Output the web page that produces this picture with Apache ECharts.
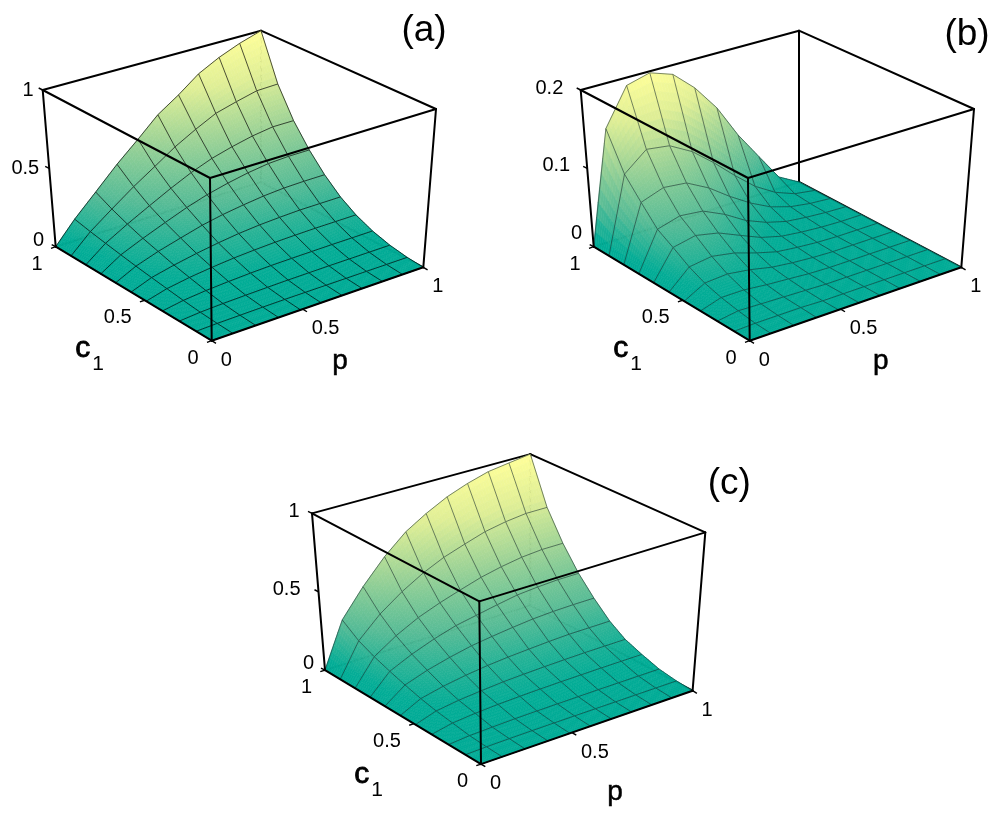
<!DOCTYPE html>
<html>
<head>
<meta charset="utf-8">
<title>surfaces</title>
<script src="https://cdn.jsdelivr.net/npm/echarts@6/dist/echarts.min.js"></script>
<style>
  html, body { margin: 0; padding: 0; background: #fff; }
  #main { width: 1002px; height: 836px; }
</style>
</head>
<body>
<div id="main"></div>
<script>
// grid line positions along p and c1 (they are not quite even)
var gridFrac = [0, 0.1, 0.208, 0.316, 0.42, 0.517, 0.616, 0.711, 0.807, 0.902, 1];

// z values, rows are c1 from 0 to 1, columns are p from 0 to 1
var surfaceA = [
  [0, 0, 0, 0, 0, 0, 0, 0, 0, 0, 0],
  [0, 0.004, 0.006, 0.008, 0.009, 0.009, 0.009, 0.009, 0.009, 0.009, 0.009],
  [0, 0.011, 0.017, 0.021, 0.024, 0.026, 0.027, 0.028, 0.028, 0.028, 0.028],
  [0, 0.022, 0.036, 0.045, 0.052, 0.056, 0.058, 0.059, 0.06, 0.06, 0.06],
  [0, 0.035, 0.058, 0.075, 0.088, 0.096, 0.102, 0.105, 0.107, 0.107, 0.107],
  [0, 0.048, 0.08, 0.107, 0.129, 0.146, 0.158, 0.165, 0.17, 0.17, 0.17],
  [0, 0.062, 0.109, 0.148, 0.185, 0.211, 0.231, 0.247, 0.257, 0.26, 0.26],
  [0, 0.078, 0.137, 0.192, 0.244, 0.285, 0.318, 0.344, 0.363, 0.37, 0.37],
  [0, 0.095, 0.172, 0.244, 0.313, 0.373, 0.424, 0.46, 0.49, 0.51, 0.51],
  [0, 0.113, 0.213, 0.312, 0.4, 0.486, 0.56, 0.625, 0.662, 0.695, 0.7],
  [0, 0.135, 0.265, 0.4, 0.52, 0.64, 0.73, 0.83, 0.9, 0.955, 1]
];
var surfaceB = [
  [0, 0, 0, 0, 0, 0, 0, 0, 0, 0, 0],
  [0, 0.001, 0.001, 0.001, 0, 0, 0, 0, 0, 0, 0],
  [0, 0.004, 0.003, 0.002, 0.001, 0, 0, 0, 0, 0, 0],
  [0, 0.008, 0.008, 0.005, 0.003, 0.001, 0, 0, 0, 0, 0],
  [0, 0.014, 0.016, 0.012, 0.006, 0.003, 0.001, 0, 0, 0, 0],
  [0, 0.023, 0.027, 0.022, 0.013, 0.006, 0.003, 0.001, 0, 0, 0],
  [0, 0.036, 0.042, 0.036, 0.024, 0.013, 0.006, 0.003, 0.001, 0, 0],
  [0, 0.048, 0.056, 0.053, 0.04, 0.024, 0.013, 0.006, 0.003, 0.001, 0],
  [0, 0.071, 0.081, 0.078, 0.063, 0.044, 0.027, 0.014, 0.006, 0.002, 0],
  [0, 0.096, 0.119, 0.115, 0.099, 0.077, 0.052, 0.03, 0.014, 0.004, 0],
  [0, 0.143, 0.19, 0.198, 0.188, 0.163, 0.129, 0.086, 0.05, 0.015, 0]
];
var surfaceC = [
  [0, 0, 0, 0, 0, 0, 0, 0, 0, 0, 0],
  [0, 0.004, 0.006, 0.007, 0.008, 0.008, 0.008, 0.008, 0.008, 0.008, 0.008],
  [0, 0.011, 0.016, 0.02, 0.022, 0.023, 0.024, 0.025, 0.025, 0.025, 0.025],
  [0, 0.027, 0.04, 0.048, 0.053, 0.056, 0.058, 0.059, 0.06, 0.06, 0.06],
  [0, 0.042, 0.062, 0.075, 0.085, 0.091, 0.095, 0.098, 0.1, 0.1, 0.1],
  [0, 0.063, 0.094, 0.117, 0.134, 0.145, 0.153, 0.16, 0.165, 0.165, 0.165],
  [0, 0.091, 0.138, 0.174, 0.203, 0.221, 0.237, 0.25, 0.257, 0.26, 0.26],
  [0, 0.122, 0.185, 0.237, 0.278, 0.303, 0.329, 0.352, 0.363, 0.37, 0.37],
  [0, 0.158, 0.247, 0.318, 0.37, 0.412, 0.453, 0.482, 0.504, 0.515, 0.515],
  [0, 0.204, 0.331, 0.43, 0.51, 0.57, 0.616, 0.658, 0.684, 0.7, 0.7],
  [0, 0.28, 0.45, 0.6, 0.72, 0.8, 0.87, 0.92, 0.96, 0.98, 1]
];

// tick labels, the 0.5 tick sits a bit before the middle of the floor edge
var floorTickLabels = ['0', '0.5', '1'];
var floorTickPos = [0, 0.43, 1];
var zTickLabelsAC = ['0', '0.5', '1'];
var zTickLabelsB = ['0', '0.1', '0.2'];
var zTickValsAC = [0, 0.5, 1];
var zTickValsB = [0, 0.1, 0.2];

var FONT = '"Liberation Sans", Arial, sans-serif';

// box corners in panel units (same box in all three panels)
var floorBox = { F: [211.7, 340.7], R: [423.3, 267.3], L: [55.7, 246.7], B: [261, 182] };
var topBox = { F: [210, 178], R: [436, 109], L: [42.7, 90], B: [261, 30.7] };

var colorStops = [
  [0, [0, 171, 150]],
  [0.05, [3, 172, 150]],
  [0.25, [85, 187, 150]],
  [0.5, [155, 210, 150]],
  [0.75, [222, 238, 150]],
  [1, [255, 255, 153]]
];

function colorAt(t) {
  t = Math.max(0, Math.min(1, t));
  for (var k = 1; k < colorStops.length; k++) {
    if (t <= colorStops[k][0]) {
      var a = colorStops[k - 1], b = colorStops[k];
      var f = (t - a[0]) / (b[0] - a[0]);
      return 'rgb(' + [0, 1, 2].map(function (n) {
        return Math.round(a[1][n] + (b[1][n] - a[1][n]) * f);
      }).join(',') + ')';
    }
  }
  return 'rgb(255,255,153)';
}

function bilinear(box, p, c) {
  var out = [];
  for (var n = 0; n < 2; n++) {
    out[n] = (1 - p) * (1 - c) * box.F[n] + p * (1 - c) * box.R[n] +
      (1 - p) * c * box.L[n] + p * c * box.B[n];
  }
  return out;
}

// p, c1 and h (0..1 of box height) to panel units
function project(p, c, h) {
  var a = bilinear(floorBox, p, c);
  var b = bilinear(topBox, p, c);
  return [a[0] + (b[0] - a[0]) * h, a[1] + (b[1] - a[1]) * h];
}

var panels = [
  {
    name: 'a', left: 0, top: 0, z: surfaceA, zMax: 1, lineColor: 'rgba(0,0,0,0.85)',
    zVals: zTickValsAC, zLabels: zTickLabelsAC,
    zOffsets: [[-11.7, -6.7], [-10, 0], [-9, 0]],
    cLabel: [82.7, 349], pLabel: [340, 361], tag: [424, 31]
  },
  {
    name: 'b', left: 538, top: 0, z: surfaceB, zMax: 0.2, lineColor: 'rgba(20,40,40,0.7)',
    zVals: zTickValsB, zLabels: zTickLabelsB,
    zOffsets: [[-11.6, -13], [-17, -3], [-17.4, -2]],
    cLabel: [82.7, 349], pLabel: [342.7, 361], tag: [429, 35]
  },
  {
    name: 'c', left: 269.3, top: 423.4, z: surfaceC, zMax: 1, lineColor: 'rgba(20,40,40,0.7)',
    zVals: zTickValsAC, zLabels: zTickLabelsAC,
    zOffsets: [[-11, -7], [-18, -2.5], [-12.4, -1.6]],
    cLabel: [92.4, 351], pLabel: [345.7, 369], tag: [460, 60]
  }
];

function surfaceRender(panel) {
  var SUB = 8;
  function zAt(i, j, u, v) {
    var z = panel.z;
    return (1 - u) * (1 - v) * z[j][i] + u * (1 - v) * z[j][i + 1] +
      (1 - u) * v * z[j + 1][i] + u * v * z[j + 1][i + 1];
  }
  return function (params, api) {
    var i = api.value(0), j = api.value(1);
    var p0 = gridFrac[i], p1 = gridFrac[i + 1], c0 = gridFrac[j], c1 = gridFrac[j + 1];
    function pt(u, v) {
      var h = zAt(i, j, u, v) / panel.zMax;
      return api.coord(project(p0 + (p1 - p0) * u, c0 + (c1 - c0) * v, h));
    }
    var children = [];
    for (var b = SUB - 1; b >= 0; b--) {
      for (var a = SUB - 1; a >= 0; a--) {
        var u0 = a / SUB, u1 = (a + 1) / SUB, v0 = b / SUB, v1 = (b + 1) / SUB;
        var col = colorAt(zAt(i, j, (u0 + u1) / 2, (v0 + v1) / 2) / panel.zMax);
        children.push({
          type: 'polygon',
          shape: { points: [pt(u0, v0), pt(u1, v0), pt(u1, v1), pt(u0, v1)] },
          style: { fill: col, stroke: col, lineWidth: 0.6 }
        });
      }
    }
    // far edges only, the near ones get drawn by the next cell
    function edge(ax, ay, bx, by) {
      children.push({
        type: 'polyline',
        shape: { points: [pt(ax, ay), pt(bx, by)] },
        style: { fill: null, stroke: panel.lineColor, lineWidth: 0.8 }
      });
    }
    edge(1, 0, 1, 1);
    edge(0, 1, 1, 1);
    if (i === 0) edge(0, 0, 0, 1);
    if (j === 0) edge(0, 0, 1, 0);
    return { type: 'group', children: children };
  };
}

function boxEdgeRender(api, from, to) {
  return {
    type: 'line',
    shape: {
      x1: api.coord(from)[0], y1: api.coord(from)[1],
      x2: api.coord(to)[0], y2: api.coord(to)[1]
    },
    style: { stroke: '#000', lineWidth: 2, lineCap: 'round' }
  };
}

var backEdges = [
  [[0, 1, 0], [1, 1, 0]], [[1, 1, 0], [1, 0, 0]], [[1, 1, 0], [1, 1, 1]],
  [[0, 1, 1], [1, 1, 1]], [[1, 1, 1], [1, 0, 1]]
];
var frontEdges = [
  [[0, 0, 0], [1, 0, 0]], [[0, 0, 0], [0, 1, 0]], [[0, 0, 0], [0, 0, 1]],
  [[1, 0, 0], [1, 0, 1]], [[0, 1, 0], [0, 1, 1]],
  [[0, 0, 1], [1, 0, 1]], [[0, 0, 1], [0, 1, 1]]
];

function edgeSeries(panelIndex, edges, z) {
  return {
    type: 'custom',
    xAxisIndex: panelIndex,
    yAxisIndex: panelIndex,
    z: z,
    silent: true,
    animation: false,
    data: edges.map(function (e, n) { return [n, 0]; }),
    renderItem: function (params, api) {
      var e = edges[api.value(0)];
      return boxEdgeRender(api, project(e[0][0], e[0][1], e[0][2]), project(e[1][0], e[1][1], e[1][2]));
    }
  };
}

function cellData() {
  var out = [];
  for (var j = gridFrac.length - 2; j >= 0; j--) {
    for (var i = gridFrac.length - 2; i >= 0; i--) out.push([i, j]);
  }
  return out;
}

// ticks and all the text of a panel
function labelSeries(panelIndex) {
  var panel = panels[panelIndex];
  var items = [];
  var ticks = [];
  floorTickPos.forEach(function (t, n) {
    var a = project(t, 0, 0);
    items.push({ text: floorTickLabels[n], x: a[0] + 9, y: a[1] + 19.5, align: 'left', size: 20 });
    ticks.push([a, [a[0] + 4.3, a[1] + 2.6]]);
    var b = project(0, t, 0);
    items.push({ text: floorTickLabels[n], x: b[0] - 13, y: b[1] + 17.5, align: 'right', size: 20 });
    ticks.push([b, [b[0] - 4.7, b[1] + 1.6]]);
  });
  panel.zVals.forEach(function (v, n) {
    var a = project(0, 1, v / panel.zMax);
    var off = panel.zOffsets[n];
    items.push({ text: panel.zLabels[n], x: a[0] + off[0], y: a[1] + off[1], align: 'right', size: 20 });
    ticks.push([a, [a[0] - 4, a[1] - 2]]);
  });
  items.push({ text: 'c', x: panel.cLabel[0], y: panel.cLabel[1], align: 'center', size: 30, heavy: 0.8 });
  items.push({ text: '1', x: panel.cLabel[0] + 15.5, y: panel.cLabel[1] + 15.5, align: 'center', size: 21 });
  items.push({ text: 'p', x: panel.pLabel[0], y: panel.pLabel[1], align: 'center', size: 28, heavy: 0.5 });
  items.push({ text: '(' + panel.name + ')', x: panel.tag[0], y: panel.tag[1], align: 'center', size: 37 });
  return {
    type: 'custom',
    xAxisIndex: panelIndex,
    yAxisIndex: panelIndex,
    z: 5,
    silent: true,
    animation: false,
    data: [[0, 0]],
    renderItem: function (params, api) {
      var children = items.map(function (it) {
        var pos = api.coord([it.x, it.y]);
        return {
          type: 'text',
          style: {
            text: it.text, x: pos[0], y: pos[1], fill: '#000',
            stroke: it.heavy ? '#000' : null, lineWidth: it.heavy || 0,
            font: 'normal ' + it.size + 'px ' + FONT,
            align: it.align, verticalAlign: 'middle'
          }
        };
      });
      ticks.forEach(function (t) {
        var a = api.coord(t[0]), b = api.coord(t[1]);
        children.push({
          type: 'line',
          shape: { x1: a[0], y1: a[1], x2: b[0], y2: b[1] },
          style: { stroke: '#000', lineWidth: 1.4 }
        });
      });
      return { type: 'group', children: children };
    }
  };
}

var grids = [], xAxes = [], yAxes = [], series = [];
panels.forEach(function (panel, n) {
  grids.push({ left: panel.left, top: panel.top, width: 464, height: 400 });
  xAxes.push({ type: 'value', gridIndex: n, min: 0, max: 464, show: false });
  yAxes.push({ type: 'value', gridIndex: n, min: 0, max: 400, inverse: true, show: false });
  series.push(edgeSeries(n, backEdges, 1));
  series.push({
    type: 'custom',
    xAxisIndex: n,
    yAxisIndex: n,
    z: 2,
    silent: true,
    animation: false,
    progressive: 0,
    data: cellData(),
    renderItem: surfaceRender(panel)
  });
  series.push(edgeSeries(n, frontEdges, 3));
  series.push(labelSeries(n));
});

var chart = echarts.init(document.getElementById('main'), null, { renderer: 'canvas' });
chart.setOption({
  animation: false,
  backgroundColor: '#fff',
  grid: grids,
  xAxis: xAxes,
  yAxis: yAxes,
  series: series
});
</script>
</body>
</html>
